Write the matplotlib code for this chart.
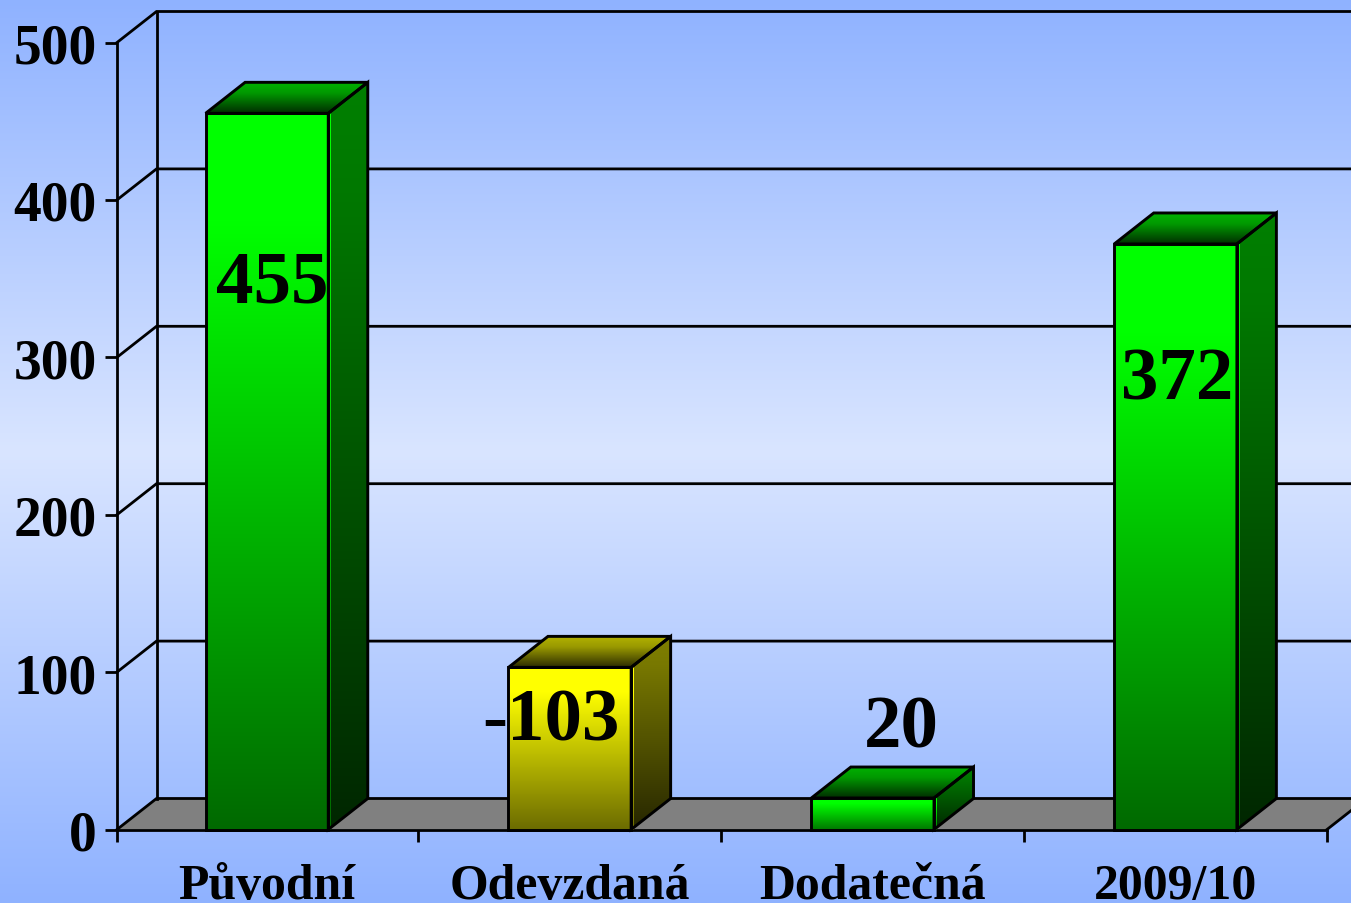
import numpy as np
import matplotlib
matplotlib.use("Agg")
import matplotlib.pyplot as plt
from matplotlib.patches import Polygon

categories = ["Původní", "Odevzdaná", "Dodatečná", "2009/10"]
values = [455, -103, 20, 372]
y_ticks = [0, 100, 200, 300, 400, 500]

W, H = 1351, 904
LEFT, RIGHT, TOP, BOTTOM = 115.5, 1327.0, 43.5, 830.5
BAR_W = 0.405
fig = plt.figure(figsize=(W / 100, H / 100), dpi=100)

# background
bg = fig.add_axes([0, 0, 1, 1], zorder=0)
c_edge = np.array([143, 178, 255]) / 255
c_mid = np.array([217, 229, 255]) / 255
s = np.linspace(0, 1, 512)
w = 1 - np.abs(2 * s - 1)
bg.imshow((c_edge[None, :] * (1 - w[:, None]) + c_mid[None, :] * w[:, None])[:, None, :],
          aspect="auto", extent=[0, 1, 0, 1], interpolation="bilinear")
bg.axis("off")

ax = fig.add_axes([LEFT / W, 1 - BOTTOM / H, (RIGHT - LEFT) / W, (BOTTOM - TOP) / H], zorder=1)
ax.patch.set_alpha(0)
ax.set_xlim(-0.5, 3.5)
ax.set_ylim(0, 500)
ax.set_autoscale_on(False)

px_x = 4 / (RIGHT - LEFT)      # categories per pixel
px_y = 500 / (BOTTOM - TOP)    # value units per pixel
DX, DY = 39.5 * px_x, 31 * px_y
LW = 2.0
X0, X1 = -0.495, 3.5

# floor and walls
ax.add_patch(Polygon([(X0, 0), (X1, 0), (X1 + DX, DY), (X0 + DX, DY)], closed=True,
                     fc="#808080", ec="none", clip_on=False, zorder=1))
for v in y_ticks:
    ax.plot([X0, X0 + DX, X1 + DX], [v, v + DY, v + DY], color="black", lw=LW,
            clip_on=False, zorder=2, solid_joinstyle="miter")
ax.plot([X0 + DX, X0 + DX], [DY, 500 + DY], color="black", lw=LW, clip_on=False, zorder=2)
ax.plot([X1, X1 + DX], [0, DY], color="black", lw=LW, clip_on=False, zorder=2)


def grad(color, levels):
    t = np.linspace(0, 1, 256)
    pos = [p for p, _ in levels]
    val = [f for _, f in levels]
    f = np.interp(t, pos, val)
    return (np.array(color)[None, :] * f[:, None])[:, None, :]


def face(pts, color, levels, z):
    xs = [p[0] for p in pts]
    ys = [p[1] for p in pts]
    im = ax.imshow(grad(color, levels), extent=[min(xs), max(xs), min(ys), max(ys)],
                   aspect="auto", interpolation="bilinear", zorder=z)
    poly = Polygon(pts, closed=True, transform=ax.transData, fc="none", ec="none")
    im.set_clip_path(poly)
    im.set_clip_on(True)
    ax.set_xlim(-0.5, 3.5)
    ax.set_ylim(0, 500)


def edge(pts, z):
    ax.add_patch(Polygon(pts, closed=True, fc="none", ec="black", lw=2.1,
                         clip_on=False, zorder=z, joinstyle="miter"))


FRONT = [(0, 1.0), (0.15, 1.0), (1, 0.41)]
SIDE = [(0, 0.5), (0.15, 0.47), (1, 0.15)]
LID = [(0, 0.7), (0.35, 0.6), (1, 0.18)]
fr_x, fr_y = 3.0 * px_x, 2.5 * px_y

for i, val in enumerate(values):
    col = (1, 1, 0) if val < 0 else (0, 1, 0)
    h = abs(val)
    a, b = i - BAR_W / 2, i + BAR_W / 2
    z = 3 + i
    side = [(b, 0), (b + DX, DY), (b + DX, h + DY), (b, h)]
    lid = [(a, h), (b, h), (b + DX, h + DY), (a + DX, h + DY)]
    front = [(a, 0), (b, 0), (b, h), (a, h)]
    face(side, col, SIDE, z)
    face(lid, col, LID, z)
    face([(a, -fr_y), (b + fr_x, -fr_y), (b + fr_x, h), (a, h)], col, FRONT, z)
    edge(side, z + 0.1)
    edge(lid, z + 0.1)
    edge(front, z + 0.2)

# data labels: offsets in pixels from the top of the bar front
offsets = [(5, -170), (-19, -54), (29, 70), (2, -137)]
for i, val in enumerate(values):
    ox, oy = offsets[i]
    ax.annotate(str(val), xy=(i, abs(val)), xycoords="data",
                xytext=(ox * 0.72, oy * 0.72), textcoords="offset points",
                family="Liberation Serif", weight="bold", size=54, color="black",
                ha="center", va="center", zorder=20, annotation_clip=False)

# axes
for name in ("top", "right"):
    ax.spines[name].set_visible(False)
for name in ("left", "bottom"):
    ax.spines[name].set_linewidth(LW)
    ax.spines[name].set_zorder(2.5)
ax.spines["left"].set_position(("data", X0))
ax.spines["left"].set_bounds(0, 500)
ax.spines["bottom"].set_bounds(X0, X1)
ax.set_yticks(y_ticks)
ax.set_yticklabels([str(v) for v in y_ticks], family="Liberation Serif", weight="bold", fontsize=40)
ax.tick_params(axis="y", length=8.6, width=LW, pad=6)
ax.set_xticks([X0, 0.5, 1.5, 2.5, 3.5])
ax.set_xticklabels([])
ax.set_xticks(range(4), minor=True)
ax.set_xticklabels(categories, minor=True, family="Liberation Serif", weight="bold", fontsize=35.8)
ax.tick_params(axis="x", which="major", length=8.6, width=LW)
ax.tick_params(axis="x", which="minor", length=0, pad=24)

fig.savefig("out.png", dpi=100)
